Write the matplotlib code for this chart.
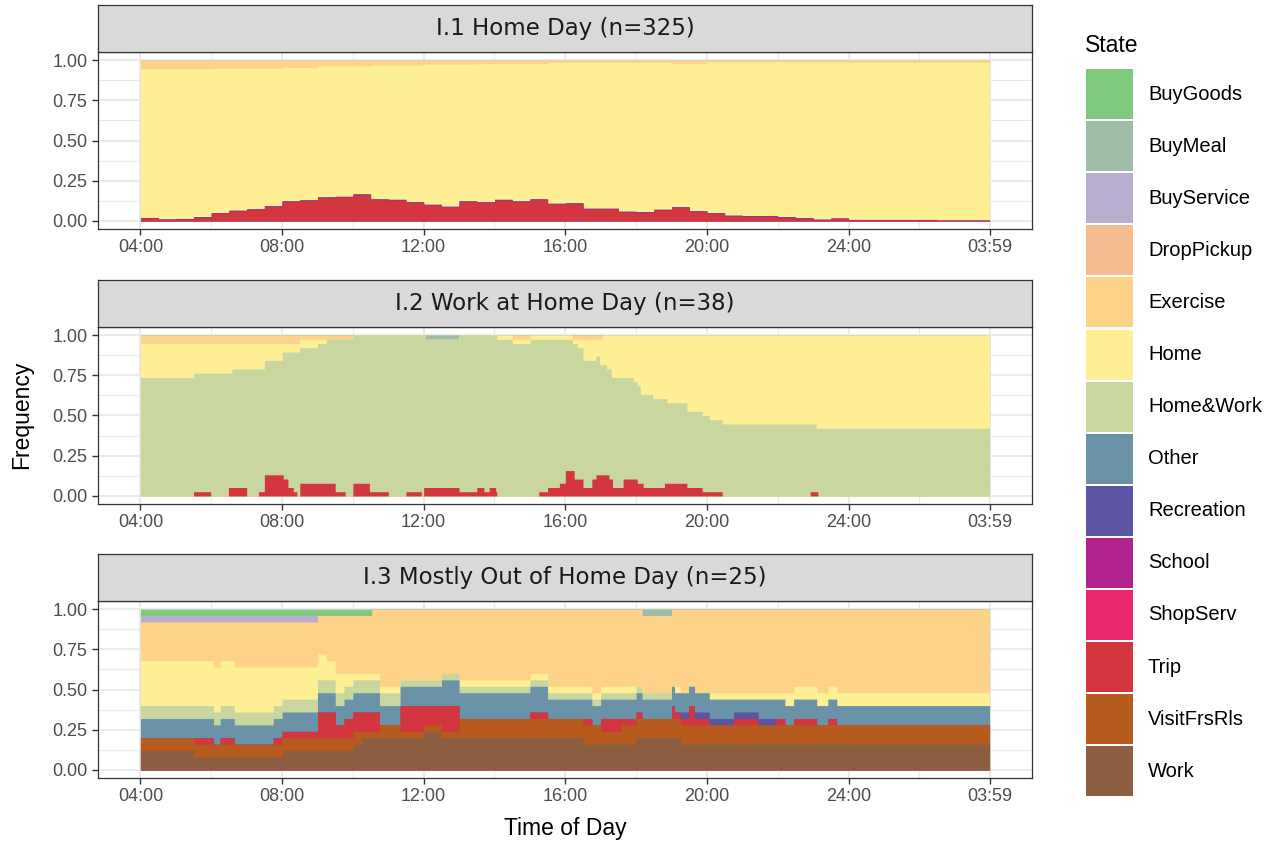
import numpy as np
import matplotlib
matplotlib.use("Agg")
import matplotlib.pyplot as plt
from matplotlib.patches import Rectangle

plt.rcParams["font.family"] = ["Liberation Sans", "DejaVu Sans"]

W, H = 1282, 844

# ---- activity states (legend order = top of stack first) ----
states = ["BuyGoods", "BuyMeal", "BuyService", "DropPickup", "Exercise", "Home",
          "Home&Work", "Other", "Recreation", "School", "ShopServ", "Trip",
          "VisitFrsRls", "Work"]
state_colors = ["#7FC97F", "#9DBDA7", "#B9AED0", "#F5BC90", "#FDD38A", "#FFEF94",
                "#C9D6A0", "#6B93A8", "#5B55A3", "#B0228E", "#EA2870", "#D3363E",
                "#B85B1E", "#8C5F43"]

panel_titles = ["I.1 Home Day (n=325)", "I.2 Work at Home Day (n=38)",
                "I.3 Mostly Out of Home Day (n=25)"]
panel_n = [325, 38, 25]

x_tick_labels = ["04:00", "08:00", "12:00", "16:00", "20:00", "24:00", "03:59"]
y_tick_labels = ["0.00", "0.25", "0.50", "0.75", "1.00"]

# ---- I.1 Home Day: counts (of 325) on a half-hour grid from 04:00 ----
p1_times = ["04:00", "04:30", "05:00", "05:30", "06:00", "06:30", "07:00", "07:30",
            "08:00", "08:30", "09:00", "09:30", "10:00", "10:30", "11:00", "11:30",
            "12:00", "12:30", "13:00", "13:30", "14:00", "14:30", "15:00", "15:30",
            "16:00", "16:30", "17:00", "17:30", "18:00", "18:30", "19:00", "19:30",
            "20:00", "20:30", "21:00", "21:30", "22:00", "22:30", "23:00", "23:30",
            "00:00", "00:30", "01:00", "01:30", "02:00", "02:30", "03:00", "03:30"]
p1_trip = [6, 3, 4, 7, 15, 20, 23, 29, 39, 41, 47, 48, 53, 43, 42, 37,
           32, 28, 39, 37, 42, 39, 43, 34, 35, 24, 24, 18, 17, 22, 27, 19,
           15, 10, 9, 9, 7, 5, 2, 5, 2, 2, 2, 2, 2, 1, 1, 1]
p1_school = [1] * 48
p1_recreation = [0, 0, 0] + [1] * 36 + [0] * 9
p1_exercise = [18, 18, 18, 18, 17, 17, 17, 17, 15, 15, 12, 12, 12, 10, 10, 10,
               8, 8, 8, 7, 7, 7, 7, 5, 5, 5, 5, 5, 5, 5, 7, 7,
               4, 4, 4, 4, 4, 4, 4, 4, 5, 5, 5, 5, 5, 5, 5, 5]
p1_home = [300, 303, 302, 298, 291, 286, 283, 277, 269, 267, 264, 263, 258, 270, 271, 276,
           283, 287, 276, 279, 274, 277, 273, 284, 283, 294, 294, 300, 301, 296, 289, 297,
           304, 309, 310, 310, 312, 314, 317, 315, 317, 317, 317, 317, 317, 318, 318, 318]

# ---- I.2 Work at Home Day: counts (of 38), each state with its own change times ----
p2_trip_times = ["04:00", "05:30", "05:59", "06:29", "07:00", "07:20", "07:30", "08:02",
                 "08:10", "08:19", "08:25", "08:30", "09:30", "09:47", "10:00", "10:28",
                 "11:00", "11:30", "11:56", "12:00", "13:00", "13:30", "13:42", "13:51",
                 "14:02", "14:04", "15:15", "15:30", "15:50", "16:00", "16:15", "16:30",
                 "16:45", "16:52", "17:14", "17:20", "17:38", "18:02", "18:12", "18:48",
                 "19:26", "19:52", "20:26", "22:55", "23:08"]
p2_trip = [0, 1, 0, 2, 0, 1, 5, 4, 2, 1, 0, 3, 1, 0, 3, 1,
           0, 1, 0, 2, 1, 2, 1, 2, 1, 0, 1, 2, 3, 6, 4, 2,
           4, 5, 4, 2, 4, 3, 2, 3, 2, 1, 0, 1, 0]
p2_homework_times = ["04:00", "05:30", "05:59", "06:29", "06:35", "07:00", "07:20", "07:30",
                     "08:00", "08:02", "08:10", "08:19", "08:25", "08:30", "09:00", "09:15",
                     "09:30", "09:47", "10:00", "10:28", "11:00", "11:30", "11:56", "12:00",
                     "12:02", "13:00", "13:30", "13:42", "13:51", "14:02", "14:04", "14:30",
                     "15:00", "15:15", "15:30", "15:50", "16:00", "16:12", "16:15", "16:20",
                     "16:30", "16:45", "16:52", "16:58", "17:10", "17:14", "17:18", "17:20",
                     "17:38", "17:55", "18:02", "18:07", "18:12", "18:28", "18:48", "18:52",
                     "19:26", "19:52", "20:04", "20:26", "22:55", "23:05", "23:08"]
p2_homework = [28, 28, 29, 27, 28, 30, 29, 27, 29, 30, 32, 33, 34, 32, 33, 34,
               36, 37, 35, 37, 38, 37, 38, 36, 35, 37, 36, 37, 36, 37, 37, 36,
               37, 36, 35, 34, 31, 30, 32, 31, 30, 28, 28, 26, 25, 26, 24, 26,
               24, 23, 23, 21, 22, 21, 20, 19, 18, 18, 17, 17, 16, 15, 16]
p2_home_times = ["04:00", "05:30", "06:35", "07:30", "08:00", "09:00", "09:15", "14:04",
                 "16:20", "16:30", "16:52", "16:58", "17:03", "17:10", "17:18", "17:55",
                 "18:02", "18:07", "18:28", "18:52", "19:26", "19:52", "20:04", "20:26",
                 "23:05"]
p2_home = [8, 7, 6, 4, 2, 1, 0, 1, 2, 5, 4, 6, 7, 8, 10, 11,
           12, 14, 15, 16, 18, 19, 20, 21, 22]
p2_exercise_times = ["04:00", "08:30", "10:00", "14:30", "15:00", "16:12", "17:03"]
p2_exercise = [2, 1, 0, 1, 0, 1, 0]
p2_buymeal_times = ["04:00", "12:02", "13:00"]
p2_buymeal = [0, 1, 0]

# ---- I.3 Mostly Out of Home Day: counts (of 25) at shared change times ----
p3_times = ["04:00", "05:30", "06:04", "06:15", "06:39", "07:45", "08:00", "09:00",
            "09:15", "09:30", "09:45", "10:00", "10:15", "10:32", "10:45", "11:20",
            "12:00", "12:30", "13:00", "15:00", "15:30", "16:30", "16:45", "17:00",
            "17:35", "18:00", "18:10", "19:00", "19:05", "19:15", "19:29", "19:39",
            "20:04", "20:45", "21:27", "21:57", "22:12", "22:27", "23:06", "23:25",
            "23:40"]
p3_work = [3, 2, 2, 2, 2, 2, 3, 3, 3, 3, 3, 4, 5, 5, 5, 5,
           6, 5, 5, 5, 5, 4, 4, 4, 4, 5, 5, 5, 5, 4, 4, 4,
           4, 4, 4, 4, 4, 4, 4, 4, 4]
p3_visit = [2, 2, 2, 2, 2, 2, 2, 2, 2, 2, 2, 2, 1, 1, 2, 1,
            1, 1, 3, 3, 3, 3, 3, 2, 3, 3, 3, 3, 3, 3, 3, 3,
            3, 3, 3, 3, 3, 3, 3, 3, 3]
p3_trip = [0, 1, 0, 1, 0, 1, 1, 4, 4, 2, 3, 3, 3, 3, 0, 4,
           3, 4, 0, 1, 0, 1, 0, 2, 1, 1, 0, 2, 1, 1, 3, 1,
           0, 1, 0, 1, 0, 1, 0, 1, 0]
p3_recreation = [0] * 29 + [1, 0, 1, 1, 1, 1] + [0] * 6
p3_other = [3] * 17 + [4, 4, 4] + [3] * 13 + [2] + [3] * 7
p3_homework = [2] * 15 + [1] * 12 + [0] * 14
p3_home = [7, 7, 7, 7, 7, 6, 5, 4, 3, 3, 2, 1, 1, 1, 1, 0,
           0, 0, 1, 1, 1, 1, 1, 1, 1, 0, 0, 0, 1, 0, 0, 0,
           1, 1, 1, 1, 2, 2, 2, 2, 2]
p3_exercise = [6, 6, 7, 6, 7, 7, 7, 6, 7, 9, 9, 9, 9, 10, 12, 11,
               11, 10, 11, 10, 12, 12, 13, 12, 12, 12, 12, 12, 12, 13, 12, 13,
               13, 13, 13, 13, 13, 12, 13, 12, 13]
p3_buyservice = [1] * 7 + [0] * 34
p3_buymeal = [0] * 26 + [1] + [0] * 14
p3_buygoods = [1] * 13 + [0] * 28

panels = [
    {"Trip": (p1_times, p1_trip), "School": (p1_times, p1_school),
     "Recreation": (p1_times, p1_recreation), "Exercise": (p1_times, p1_exercise),
     "Home": (p1_times, p1_home)},
    {"Trip": (p2_trip_times, p2_trip), "Home&Work": (p2_homework_times, p2_homework),
     "Home": (p2_home_times, p2_home), "Exercise": (p2_exercise_times, p2_exercise),
     "BuyMeal": (p2_buymeal_times, p2_buymeal)},
    {"Work": (p3_times, p3_work), "VisitFrsRls": (p3_times, p3_visit),
     "Trip": (p3_times, p3_trip), "Recreation": (p3_times, p3_recreation),
     "Other": (p3_times, p3_other), "Home&Work": (p3_times, p3_homework),
     "Home": (p3_times, p3_home), "Exercise": (p3_times, p3_exercise),
     "BuyService": (p3_times, p3_buyservice), "BuyMeal": (p3_times, p3_buymeal),
     "BuyGoods": (p3_times, p3_buygoods)},
]


def to_minutes(s):
    h, m = map(int, s.split(":"))
    v = (h - 4) * 60 + m
    return v + 1440 if v < 0 else v


minutes = np.arange(0, 1440)


def step_series(times, vals, n):
    t = np.array([to_minutes(s) for s in times])
    v = np.asarray(vals, float) / n
    idx = np.searchsorted(t, minutes, side="right") - 1
    return v[idx]


def fig_rect(left, top, right, bottom):
    return [left / W, 1 - bottom / H, (right - left) / W, (bottom - top) / H]


fig = plt.figure(figsize=(W / 100, H / 100), dpi=100)

strip_tops = [5, 280, 554]
ax_left, ax_right = 98, 1032
x_major = [0, 240, 480, 720, 960, 1200, 1439]
x_minor = [120, 360, 600, 840, 1080, 1319.5]

for k in range(3):
    st = strip_tops[k]
    ax = fig.add_axes(fig_rect(ax_left, st + 47, ax_right, st + 224))
    sax = fig.add_axes(fig_rect(ax_left, st, ax_right, st + 47))

    # stack from the bottom of the legend upwards
    series = {}
    for s in states:
        if s in panels[k]:
            tms, vals = panels[k][s]
            series[s] = step_series(tms, vals, panel_n[k])
        else:
            series[s] = np.zeros_like(minutes, dtype=float)
    tops = {}
    run = np.zeros_like(minutes, dtype=float)
    for s in reversed(states):
        run = run + series[s]
        tops[s] = run.copy()
    # paint cumulative areas from the top layer down so layers meet without seams
    for s, c in zip(states, state_colors):
        if np.any(series[s] > 0) or s == states[0]:
            ax.fill_between(minutes, 0, tops[s], step="post", color=c,
                            linewidth=0, zorder=2)

    ax.set_xlim(-71.95, 1439 + 71.95)
    ax.set_ylim(-0.05, 1.05)
    ax.set_xticks(x_major)
    ax.set_xticklabels(x_tick_labels)
    ax.set_xticks(x_minor, minor=True)
    ax.set_yticks([0, 0.25, 0.5, 0.75, 1.0])
    ax.set_yticklabels(y_tick_labels)
    ax.set_yticks([0.125, 0.375, 0.625, 0.875], minor=True)
    ax.set_axisbelow(True)
    ax.grid(which="major", color="#EBEBEB", linewidth=1.5, zorder=0)
    ax.grid(which="minor", color="#EBEBEB", linewidth=0.8, zorder=0)
    ax.tick_params(which="major", length=4.5, width=1.0, color="#333333",
                   labelcolor="#4D4D4D", labelsize=13, pad=3)
    ax.tick_params(which="minor", length=0)
    for sp in ax.spines.values():
        sp.set_color("#333333")
        sp.set_linewidth(0.9)

    sax.set_facecolor("#D9D9D9")
    sax.set_xticks([])
    sax.set_yticks([])
    for sp in sax.spines.values():
        sp.set_color("#333333")
        sp.set_linewidth(0.9)
    sax.text(0.5, 0.5, panel_titles[k], transform=sax.transAxes, ha="center",
             va="center", fontsize=16.5, color="#1A1A1A", family="DejaVu Sans")

# axis titles
fig.text(22 / W, 1 - 415 / H, "Frequency", rotation=90, ha="center", va="center",
         fontsize=16.5, color="black")
fig.text(565 / W, 1 - 828 / H, "Time of Day", ha="center", va="center",
         fontsize=16.5, color="black")

# legend
fig.text(1085 / W, 1 - 46 / H, "State", ha="left", va="center", fontsize=16.5,
         color="black")
for i, (s, c) in enumerate(zip(states, state_colors)):
    yc = 94 + 52.1 * i
    fig.patches.append(Rectangle((1086 / W, 1 - (yc + 25) / H), 47 / W, 50 / H,
                                 transform=fig.transFigure, facecolor=c,
                                 edgecolor="none"))
    fig.text(1148 / W, 1 - yc / H, s, ha="left", va="center", fontsize=14.5,
             color="black")

fig.savefig("out.png", dpi=100)
